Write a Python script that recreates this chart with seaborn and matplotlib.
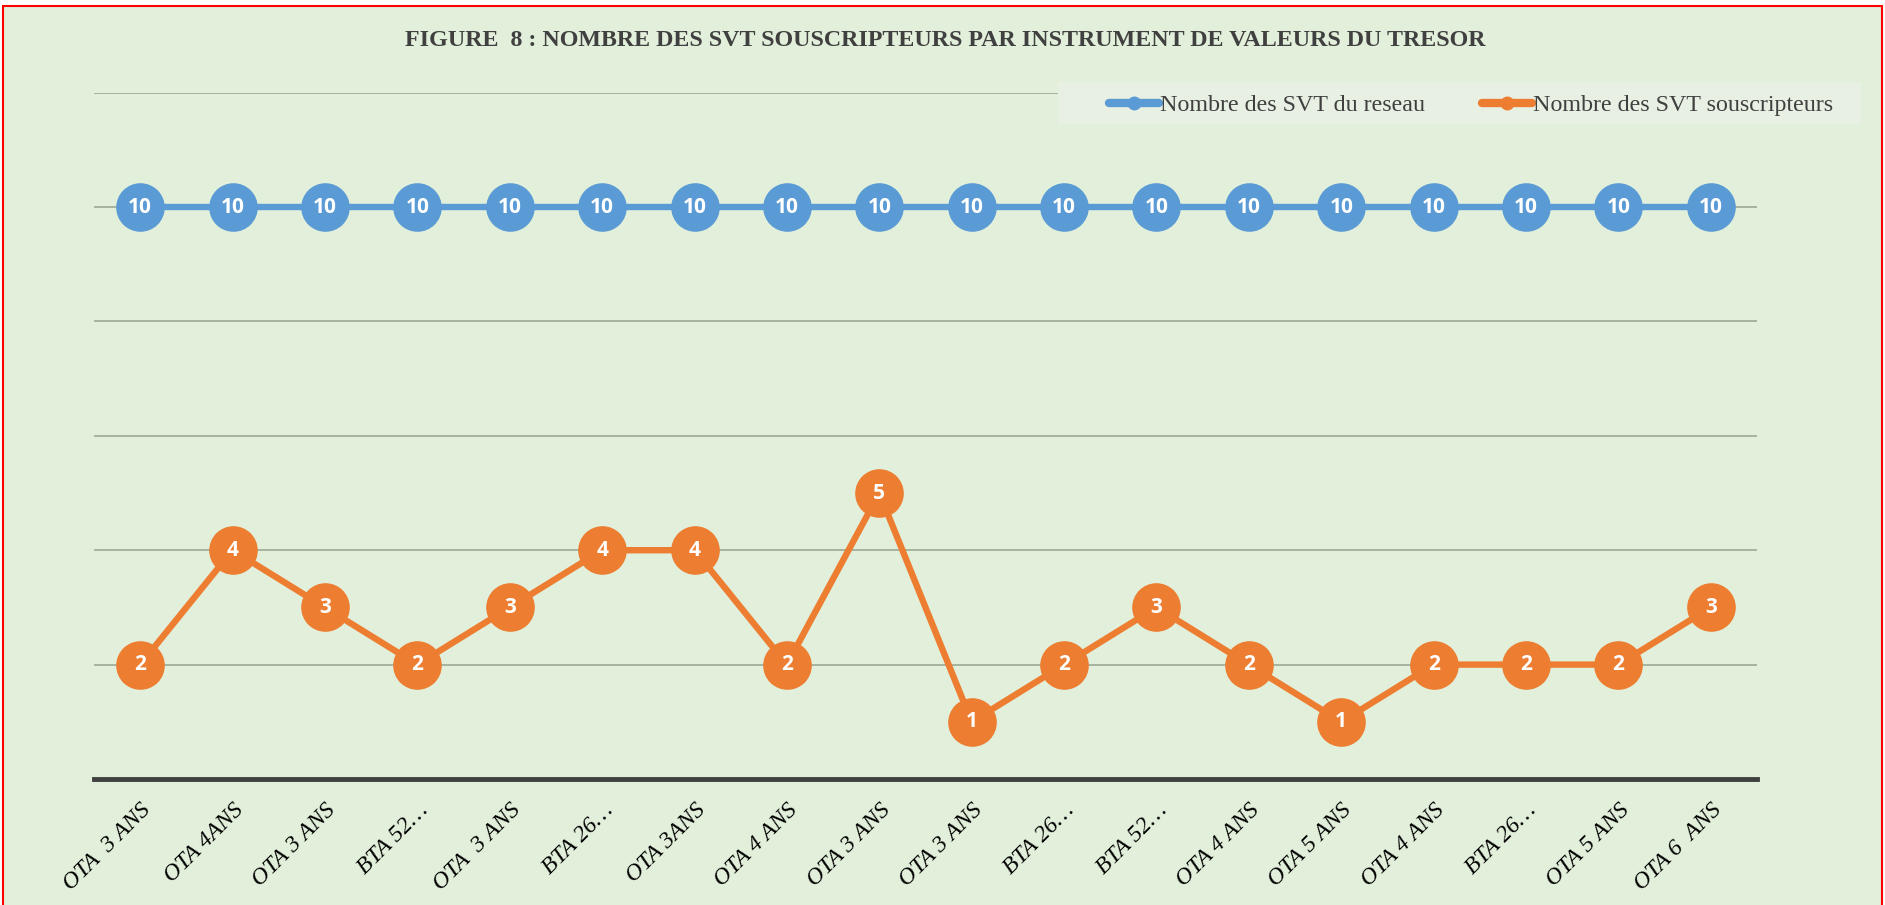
import matplotlib
matplotlib.use("Agg")
import matplotlib.pyplot as plt
import seaborn as sns
import pandas as pd
import numpy as np
from matplotlib.patches import Rectangle
from matplotlib.lines import Line2D

categories = ["OTA  3 ANS", "OTA 4ANS", "OTA 3 ANS", "BTA 52…", "OTA  3 ANS", "BTA 26…",
              "OTA 3ANS", "OTA 4 ANS", "OTA 3 ANS", "OTA 3 ANS", "BTA 26…", "BTA 52…",
              "OTA 4 ANS", "OTA 5 ANS", "OTA 4 ANS", "BTA 26…", "OTA 5 ANS", "OTA 6  ANS"]
reseau = [10] * 18
souscripteurs = [2, 4, 3, 2, 3, 4, 4, 2, 5, 1, 2, 3, 2, 1, 2, 2, 2, 3]
series_names = ["Nombre des SVT du reseau", "Nombre des SVT souscripteurs"]
colors = ["#5B9BD5", "#ED7D31"]
yticks = [0, 2, 4, 6, 8, 10, 12]

sns.set_theme(style="white")
plt.rcParams['font.family'] = ['Liberation Serif', 'DejaVu Serif']

W, H = 1885, 905
fig = plt.figure(figsize=(W / 100, H / 100), dpi=100, facecolor="white")
fig.add_artist(Rectangle((3 / W, -0.05), (1882 - 3) / W, 1.05 - 6 / H,
                         transform=fig.transFigure, facecolor="#E2EFDA",
                         edgecolor="#FF0000", linewidth=1.5, zorder=-10))
# legend background box
fig.add_artist(Rectangle((1058 / W, 1 - 124 / H), (1861 - 1058) / W, 42 / H,
                         transform=fig.transFigure, facecolor="#E7F0E2",
                         edgecolor="none", zorder=5))

ax = fig.add_axes([94 / W, 1 - 779 / H, (1757 - 94) / W, (779 - 92.6) / H])
ax.set_facecolor("none")

df = pd.DataFrame({"x": np.arange(len(categories)), "reseau": reseau, "sous": souscripteurs})

for col, name, c in zip(["reseau", "sous"], series_names, colors):
    sns.lineplot(data=df, x="x", y=col, ax=ax, color=c, linewidth=4.6, marker="o",
                 markersize=35, markeredgewidth=0, label=name, legend=False, zorder=3)
    for xi, yi in zip(df["x"], df[col]):
        ax.text(xi, yi, str(yi), ha="center", va="center", color="white",
                fontsize=15, fontweight="bold", family=["Open Sans", "DejaVu Sans"], zorder=5)

ax.set_xlim(-0.5, len(categories) - 0.5)
ax.set_ylim(0, 12)
ax.set_yticks(yticks)
ax.set_yticklabels([])
ax.tick_params(axis="y", length=0)
ax.grid(axis="y", color="#A6B39F", linewidth=1.4, zorder=0)
ax.set_axisbelow(True)
for s in ["top", "right", "left"]:
    ax.spines[s].set_visible(False)
ax.spines["bottom"].set_color("#404040")
ax.spines["bottom"].set_linewidth(3.5)
ax.spines["bottom"].set_zorder(4)
ax.set_xlabel("")
ax.set_ylabel("")
ax.set_xticks(df["x"])
ax.set_xticklabels(categories, rotation=45, ha="right", va="top", rotation_mode="anchor",
                   fontsize=17, fontstyle="italic", color="black")
ax.tick_params(axis="x", length=0, pad=15)

fig.text(945 / W, 1 - 41 / H, "FIGURE  8 : NOMBRE DES SVT SOUSCRIPTEURS PAR INSTRUMENT DE VALEURS DU TRESOR",
         ha="center", va="center", fontsize=17.3, fontweight="bold", color="#404040")

handles = [Line2D([0], [0], color=c, linewidth=6, marker="o", markersize=9) for c in colors]
leg = fig.legend(handles, series_names, loc="center", bbox_to_anchor=(1471 / W, 1 - 105.5 / H),
                 ncol=2, frameon=False, fontsize=17.3, handlelength=2.1,
                 handletextpad=0.05, columnspacing=2.35, borderpad=0.45)
leg.set_zorder(6)
for t in leg.get_texts():
    t.set_color("#404040")

fig.savefig("out.png", dpi=100, facecolor="white")
